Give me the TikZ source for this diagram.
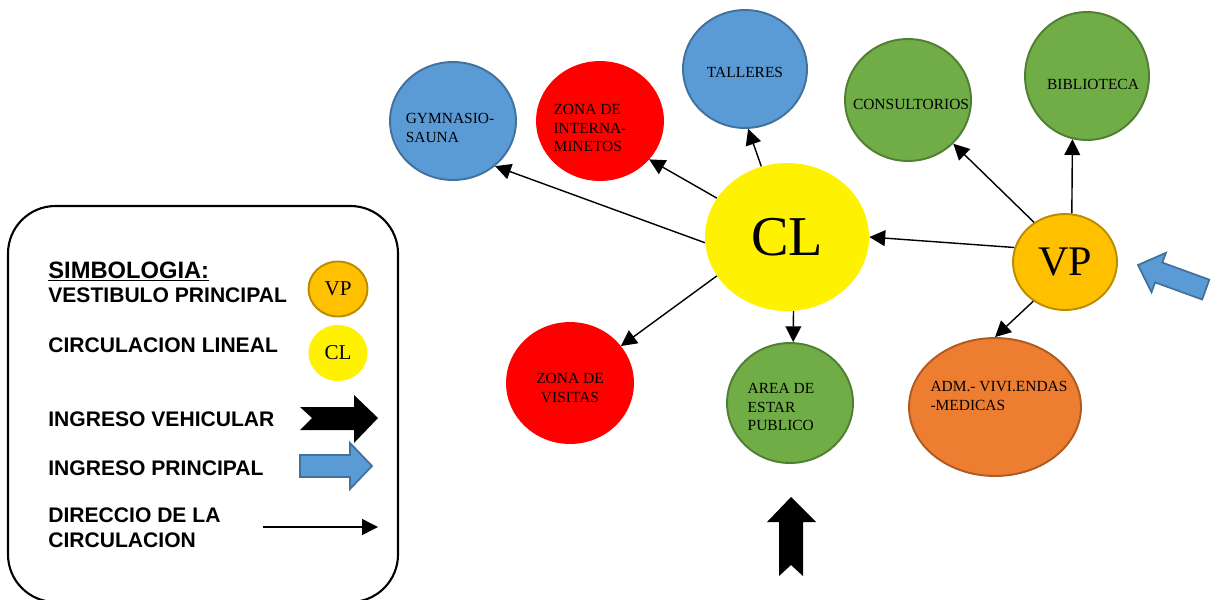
\documentclass[tikz,border=0pt]{standalone}
\usepackage{fontspec}
\setmainfont{Liberation Serif}
\setsansfont{Liberation Sans}
\usetikzlibrary{shapes.geometric,arrows.meta}

\definecolor{zblue}{HTML}{5B9BD5}
\definecolor{zblueline}{HTML}{41719C}
\definecolor{zgreen}{HTML}{70AD47}
\definecolor{zgreenline}{HTML}{507E32}
\definecolor{zgold}{HTML}{FFC000}
\definecolor{zgoldline}{HTML}{BC8C00}
\definecolor{zorange}{HTML}{ED7D31}
\definecolor{zorangeline}{HTML}{AE5A21}

\begin{document}
\begin{tikzpicture}[
    x=0.02cm, y=-0.02cm,
    zone/.style={ellipse, draw, line width=1.1pt, minimum width=2.52cm, minimum height=2.36cm, inner sep=0pt},
    bluezone/.style={zone, fill=zblue, draw=zblueline},
    redzone/.style={zone, fill=red, draw=red},
    greenzone/.style={zone, fill=zgreen, draw=zgreenline},
    lbl/.style={font=\fontsize{8.8}{10.5}\selectfont, align=left, inner sep=0pt},
    key/.style={font=\sffamily\bfseries\fontsize{12}{14.2}\selectfont, anchor=base west, inner sep=0pt},
    arr/.style={-{Triangle[length=9pt,width=9pt]}, line width=0.8pt}
]
    \useasboundingbox (0,0) rectangle (1212,599);

    % Legend
    \draw [line width=1.2pt, rounded corners=0.95cm] (8,206) rectangle (398,602);
    \node [key, font=\sffamily\bfseries\fontsize{13.5}{16}\selectfont] (title) at (48,278) {\underline{SIMBOLOGIA:}};
    \node [key] (k-vp) at (48,302) {VESTIBULO PRINCIPAL};
    \node [key] (k-cl) at (48,352) {CIRCULACION LINEAL};
    \node [key] (k-veh) at (48,426) {INGRESO VEHICULAR};
    \node [key] (k-main) at (48,475) {INGRESO PRINCIPAL};
    \node [key, anchor=west, align=left] (k-dir) at (48,528) {DIRECCIO DE LA\\CIRCULACION};
    \node [ellipse, draw=zgoldline, line width=1.1pt, fill=zgold, minimum width=1.18cm, minimum height=1.1cm, inner sep=0pt, font=\fontsize{12}{12}\selectfont] (s-vp) at (338,289) {VP};
    \node [ellipse, fill=yellow, minimum width=1.18cm, minimum height=1.12cm, inner sep=0pt, font=\fontsize{12}{12}\selectfont] (s-cl) at (338,353) {CL};
    \fill (300,407) -- (354,407) -- (354,395) -- (378,418) -- (354,443) -- (354,430) -- (300,430) -- (312,418) -- cycle;
    \filldraw [fill=zblue, draw=zblueline, line width=1pt] (300,455) -- (350,455) -- (350,443) -- (372,466) -- (350,489) -- (350,477) -- (300,477) -- cycle;
    \coordinate (dir-a) at (263,527);
    \coordinate (dir-b) at (378,527);
    \draw [arr] (dir-a) -- (dir-b);

    % Zones
    \node [bluezone, label={[lbl, xshift=-0.06cm, yshift=-0.14cm]center:GYMNASIO-\\SAUNA}] (gym) at (453,121) {};
    \node [redzone, label={[lbl, xshift=-0.2cm, yshift=-0.14cm]center:ZONA DE\\INTERNA-\\MINETOS}] (intern) at (600,121) {};
    \node [bluezone, minimum width=2.48cm, label={[lbl, yshift=-0.06cm]center:TALLERES}] (talleres) at (745,69) {};
    \node [greenzone, minimum height=2.44cm, label={[lbl, xshift=0.06cm, yshift=-0.08cm]center:CONSULTORIOS}] (consult) at (908,100) {};
    \node [greenzone, minimum width=2.48cm, minimum height=2.56cm, label={[lbl, xshift=0.12cm, yshift=-0.16cm]center:BIBLIOTECA}] (biblio) at (1087,76) {};
    \node [redzone, minimum height=2.4cm, label={[lbl, align=center, yshift=-0.1cm]center:ZONA DE\\VISITAS}] (visitas) at (570,383) {};
    \node [greenzone, minimum height=2.4cm, label={[lbl, xshift=-0.18cm, yshift=-0.08cm]center:AREA DE\\ESTAR\\PUBLICO}] (area) at (790,403) {};
    \node [zone, fill=zorange, draw=zorangeline, minimum width=3.44cm, minimum height=2.76cm, label={[lbl, xshift=0.08cm, yshift=0.22cm]center:ADM.- VIVI.ENDAS\\-MEDICAS}] (adm) at (995,407) {};

    % Circulation
    \node [ellipse, fill=yellow, minimum width=3.28cm, minimum height=2.96cm, inner sep=0pt, font=\fontsize{32}{32}\selectfont] (cl) at (787,237) {CL};
    \node [ellipse, draw=zgoldline, line width=1.1pt, fill=zgold, minimum width=2.08cm, minimum height=1.92cm, inner sep=0pt, font=\fontsize{24}{24}\selectfont] (vp) at (1065,262) {VP};

    % Entrances
    \fill (779,576) -- (779,522) -- (767,522) -- (791,497) -- (816,522) -- (803,522) -- (803,576) -- (791,565) -- cycle;
    \filldraw [fill=zblue, draw=zblueline, line width=1pt] (1138,265) -- (1165.9,252.8) -- (1162.3,262.6) -- (1209.3,279.7) -- (1202.1,299.5) -- (1155.1,282.4) -- (1151.5,292.2) -- cycle;

    % Connections
    \draw [arr] (cl.184) -- (gym.-47);
    \draw [arr] (cl.151) -- (intern.-38);
    \draw [arr] (cl.110) -- (talleres.-87);
    \draw [arr] (cl.209) -- (visitas.36);
    \draw [arr] (cl.-85) -- (area.87);
    \draw [arr] (vp.164) -- (cl.0);
    \draw [arr] (vp.128) -- (consult.-44);
    \draw [arr] (vp.82) -- (biblio.-103);
    \draw [arr] (vp.231) -- (adm.90);
\end{tikzpicture}
\end{document}
